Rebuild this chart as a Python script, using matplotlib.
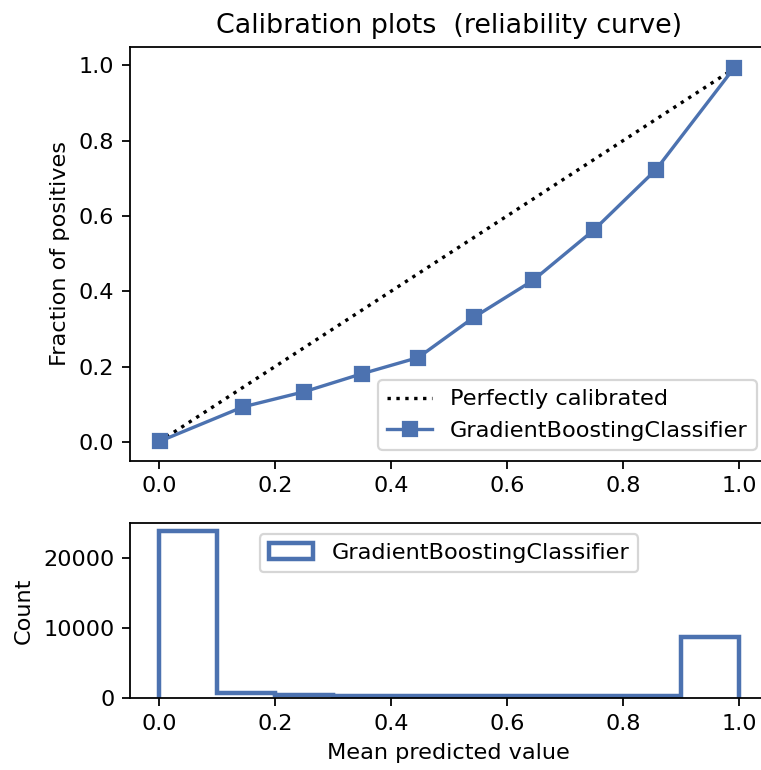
import numpy as np
import matplotlib
matplotlib.use("Agg")
import matplotlib.pyplot as plt

# calibration curve (mean predicted value, fraction of positives)
mean_predicted = [0.002, 0.145, 0.25, 0.35, 0.447, 0.543, 0.645, 0.75, 0.857, 0.991]
fraction_pos = [0.002, 0.093, 0.133, 0.181, 0.224, 0.331, 0.429, 0.563, 0.723, 0.992]

# histogram of predicted probabilities (10 bins on [0, 1])
bin_edges = [0.0, 0.1, 0.2, 0.3, 0.4, 0.5, 0.6, 0.7, 0.8, 0.9, 1.0]
bin_counts = [23800, 650, 380, 330, 300, 280, 270, 280, 330, 8750]

name = "GradientBoostingClassifier"
blue = "#4c72b0"

DPI = 161
fig = plt.figure(figsize=(761 / DPI, 770 / DPI), dpi=DPI)
ax1 = fig.add_axes([0.1708, 0.4017, 0.8382, 0.5377])
ax2 = fig.add_axes([0.1708, 0.0935, 0.8382, 0.2273])

ax1.plot([0, 1], [0, 1], "k:", label="Perfectly calibrated")
ax1.plot(mean_predicted, fraction_pos, "s-", color=blue, label=name)
ax1.set_ylabel("Fraction of positives")
ax1.set_ylim([-0.05, 1.05])
ax1.legend(loc="lower right")
ax1.set_title("Calibration plots  (reliability curve)")

ax2.hist(bin_edges[:-1], bins=bin_edges, weights=bin_counts,
         histtype="step", lw=2, color=blue, label=name)
ax2.set_xlabel("Mean predicted value")
ax2.set_ylabel("Count")
ax2.legend(loc="upper center", ncol=2)

fig.savefig("out.png", dpi=DPI)
